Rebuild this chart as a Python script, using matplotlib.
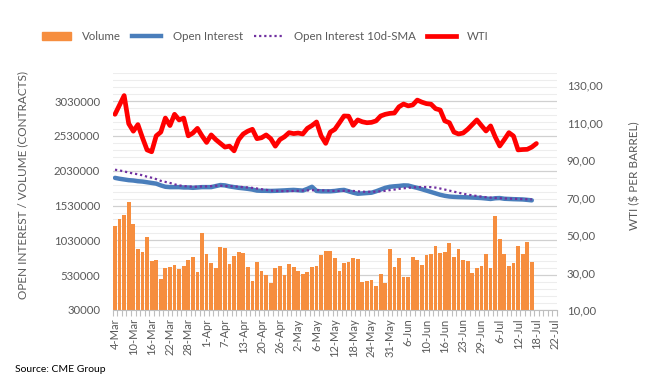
import matplotlib
matplotlib.use('Agg')
import matplotlib.pyplot as plt
from matplotlib.ticker import FixedLocator, FuncFormatter
from matplotlib.lines import Line2D
from matplotlib.patches import Patch
import numpy as np
import pandas as pd

plt.rcParams['font.family'] = ['Lato', 'DejaVu Sans']

# trading days 4-Mar .. 22-Jul (CME holidays left out)
holidays = ['2022-04-15', '2022-05-30', '2022-06-20', '2022-07-04']
days = pd.bdate_range('2022-03-04', '2022-07-22', freq='C', holidays=holidays)
categories = [f"{d.day}-{d.strftime('%b')}" for d in days]

volume = [1240000, 1337000, 1400000, 1586000, 1270000, 909000, 866000, 1082000, 740000, 750000,
          477000, 630000, 650000, 678000, 620000, 664000, 750000, 794000, 577000, 1140000,
          837000, 707000, 635000, 938000, 923000, 693000, 808000, 866000, 847000, 645000,
          448000, 720000, 590000, 534000, 419000, 630000, 664000, 534000, 693000, 650000,
          596000, 544000, 577000, 650000, 664000, 822000, 880000, 880000, 775000, 592000,
          703000, 720000, 775000, 760000, 433000, 443000, 462000, 376000, 549000, 419000,
          909000, 645000, 775000, 501000, 501000, 790000, 750000, 674000, 818000, 832000,
          952000, 847000, 866000, 995000, 790000, 909000, 750000, 736000, 559000, 630000,
          660000, 837000, 630000, 1384000, 1053000, 837000, 660000, 707000, 952000, 837000,
          1010000, 720000]

open_interest = [1928000, 1915000, 1905000, 1895000, 1890000, 1880000, 1875000, 1865000, 1855000, 1845000,
                 1820000, 1800000, 1795000, 1795000, 1795000, 1790000, 1790000, 1785000, 1790000, 1795000,
                 1795000, 1795000, 1810000, 1825000, 1820000, 1805000, 1795000, 1785000, 1778000, 1770000,
                 1760000, 1745000, 1742000, 1742000, 1740000, 1742000, 1745000, 1748000, 1752000, 1755000,
                 1750000, 1745000, 1770000, 1800000, 1740000, 1735000, 1735000, 1735000, 1740000, 1750000,
                 1755000, 1735000, 1715000, 1700000, 1705000, 1710000, 1715000, 1735000, 1760000, 1785000,
                 1800000, 1807000, 1812000, 1820000, 1818000, 1800000, 1784000, 1765000, 1745000, 1725000,
                 1705000, 1685000, 1670000, 1660000, 1655000, 1652000, 1650000, 1648000, 1645000, 1642000,
                 1638000, 1632000, 1625000, 1635000, 1638000, 1628000, 1625000, 1622000, 1620000, 1618000,
                 1612000, 1605000]

oi_sma10 = [2045000, 2035000, 2020000, 2005000, 1990000, 1980000, 1965000, 1945000, 1930000, 1910000,
            1885000, 1870000, 1855000, 1835000, 1820000, 1810000, 1805000, 1800000, 1800000, 1805000,
            1805000, 1810000, 1815000, 1815000, 1812000, 1810000, 1805000, 1800000, 1795000, 1790000,
            1784000, 1775000, 1765000, 1755000, 1745000, 1742000, 1740000, 1738000, 1738000, 1740000,
            1742000, 1745000, 1748000, 1750000, 1752000, 1750000, 1745000, 1742000, 1740000, 1740000,
            1742000, 1742000, 1740000, 1735000, 1730000, 1728000, 1728000, 1730000, 1735000, 1742000,
            1752000, 1760000, 1770000, 1778000, 1785000, 1790000, 1795000, 1797000, 1797000, 1795000,
            1788000, 1775000, 1760000, 1745000, 1730000, 1715000, 1700000, 1688000, 1677000, 1668000,
            1658000, 1650000, 1645000, 1640000, 1636000, 1633000, 1630000, 1628000, 1625000, 1623000,
            1620000, 1618000]

wti = [114.5, 119.5, 124.5, 109.5, 105.5, 109.0, 102.0, 95.5, 94.5, 103.0,
       105.0, 112.5, 108.5, 114.5, 111.5, 112.5, 103.0, 104.5, 107.0, 103.0,
       99.5, 103.5, 101.0, 99.0, 97.0, 97.5, 95.0, 101.0, 104.0, 105.5,
       106.5, 101.5, 102.0, 103.5, 101.5, 97.5, 101.0, 102.5, 104.7, 104.2,
       104.5, 104.0, 107.0, 108.5, 110.4, 103.0, 99.0, 105.0, 106.5, 110.0,
       113.6, 113.5, 108.6, 111.5, 110.5, 110.0, 110.2, 111.0, 113.6, 114.5,
       115.0, 115.2, 118.5, 120.0, 119.0, 119.5, 122.1, 121.0, 120.2, 119.9,
       117.5, 116.8, 111.0, 110.0, 105.0, 104.0, 104.5, 106.5, 109.0, 111.5,
       108.5, 105.6, 108.3, 102.5, 97.6, 101.0, 104.7, 102.9, 95.5, 95.7,
       95.8, 97.0, 98.9]

grey = '#595959'
fig = plt.figure(figsize=(6.59, 3.92), dpi=100)
ax = fig.add_axes([112.7/659, 1-310/392, 444.3/659, 236.7/392])
ax2 = ax.twinx()

x_vol = np.arange(len(volume))
x_wti = np.arange(len(wti))

ax.bar(x_vol, volume, width=0.82, color='#F68E3F', zorder=2)
ax.plot(x_vol, open_interest, color='#4A7EBB', lw=3.2, solid_capstyle='round', zorder=3)
ax.plot(x_vol, oi_sma10, color='#7030A0', lw=1.6, ls=(0, (1, 1.3)), zorder=4)
ax2.plot(x_wti, wti, color='#FF0000', lw=3.4, solid_joinstyle='round', solid_capstyle='round')

ax.set_xlim(-0.5, len(categories)-0.5)
ax.set_ylim(30000, 3430000)
ax2.set_ylim(10, 136.4)

# gridlines
ax.yaxis.set_major_locator(FixedLocator(np.arange(30000, 3030001, 500000)))
ax.yaxis.set_minor_locator(FixedLocator(np.arange(30000, 3430001, 100000)))
ax.grid(which='minor', axis='y', color='#EDEDED', lw=0.8, zorder=0)
ax.grid(which='major', axis='y', color='#D0D0D0', lw=0.9, zorder=0)
ax.set_axisbelow(True)
ax.yaxis.set_major_formatter(FuncFormatter(lambda v, p: f'{int(v)}'))
ax.tick_params(axis='y', which='both', length=0, pad=9, labelsize=8.2, labelcolor=grey)

ax2.yaxis.set_major_locator(FixedLocator(np.arange(10, 131, 20)))
ax2.yaxis.set_major_formatter(FuncFormatter(lambda v, p: f'{v:.2f}'.replace('.', ',')))
ax2.tick_params(axis='y', length=0, pad=7, labelsize=8.2, labelcolor=grey)

# category axis
ax.set_xticks(np.arange(0, len(categories), 4))
ax.set_xticklabels(categories[::4], rotation=90)
ax.xaxis.set_minor_locator(FixedLocator(np.arange(-0.5, len(categories), 1)))
ax.tick_params(axis='x', which='major', length=0, pad=6, labelsize=8, labelcolor=grey)
ax.tick_params(axis='x', which='minor', length=4, color='#BFBFBF', width=0.8)

for a in (ax, ax2):
    for s in ['top', 'left', 'right', 'bottom']:
        a.spines[s].set_visible(False)
ax.spines['bottom'].set_visible(True)
ax.spines['bottom'].set_color('#BFBFBF')

ax.set_ylabel('OPEN INTEREST / VOLUME (CONTRACTS)', fontsize=8.5, color=grey)
ax.yaxis.set_label_coords(-0.19, 0.53)
ax2.set_ylabel('WTI ($ PER BARREL)', fontsize=8.5, color=grey)
ax2.yaxis.set_label_coords(1.162, 0.566)

handles = [Patch(color='#F68E3F'),
           Line2D([], [], color='#4A7EBB', lw=3.2),
           Line2D([], [], color='#7030A0', lw=1.6, ls=(0, (1, 1.3))),
           Line2D([], [], color='#FF0000', lw=3.4)]
labels = ['Volume', 'Open Interest', 'Open Interest 10d-SMA', 'WTI']
leg = fig.legend(handles, labels, loc='center', bbox_to_anchor=(0.403, 0.906), ncol=4,
                 frameon=False, fontsize=8.3, handlelength=2.5, handletextpad=1.0,
                 columnspacing=0.95, labelcolor=grey)

fig.text(15/659, 1-369/392, 'Source: CME Group', fontsize=7.5, color='#000000', va='center')

plt.savefig('out.png', dpi=100)
plt.close('all')
